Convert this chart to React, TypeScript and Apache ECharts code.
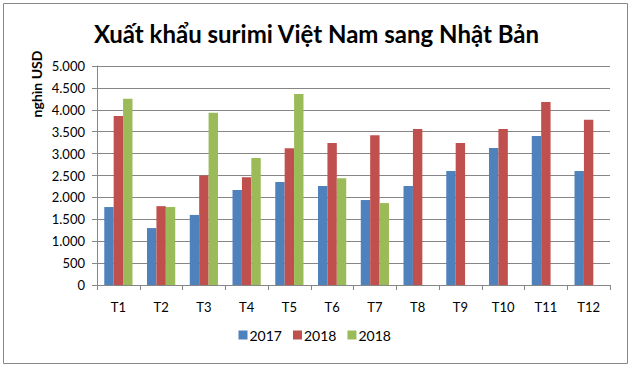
import React, { useEffect, useRef } from "react";
import * as echarts from "echarts";

const categories = ["T1", "T2", "T3", "T4", "T5", "T6", "T7", "T8", "T9", "T10", "T11", "T12"];
const seriesNames = ["2017", "2018", "2018"];
const values2017 = [1780, 1300, 1600, 2170, 2350, 2260, 1940, 2260, 2600, 3130, 3400, 2600];
const values2018a = [3860, 1800, 2500, 2460, 3120, 3240, 3420, 3560, 3240, 3560, 4180, 3770];
const values2018b: (number | null)[] = [4250, 1780, 3930, 2900, 4360, 2440, 1870, null, null, null, null, null];
const colors = ["#4F81BD", "#C0504D", "#9BBB59"];

const FONT = "Lato";

export default function App() {
  const ref = useRef<HTMLDivElement>(null);
  useEffect(() => {
    if (!ref.current) return;
    const chart = echarts.init(ref.current, null, { renderer: "svg" });
    const data = [values2017, values2018a, values2018b];
    chart.setOption({
      animation: false,
      backgroundColor: "#ffffff",
      title: {
        text: "Xuất khẩu surimi Việt Nam sang Nhật Bản",
        left: "center",
        top: 16,
        textStyle: { fontFamily: FONT, fontWeight: "bold", fontSize: 24, color: "#000" },
      },
      graphic: [
        {
          type: "rect",
          shape: { x: 3.5, y: 3.5, width: 624, height: 360 },
          style: { fill: "none", stroke: "#888888", lineWidth: 1 },
          silent: true,
        },
        {
          type: "text",
          x: 36,
          y: 84,
          rotation: Math.PI / 2,
          style: {
            text: "nghìn USD",
            fontFamily: FONT,
            fontWeight: "bold",
            fontSize: 14,
            fill: "#000",
            align: "center",
            verticalAlign: "middle",
          },
        },
      ],
      legend: {
        data: seriesNames.map((n, i) => ({ name: n + (i === 2 ? " " : ""), itemStyle: { color: colors[i] } })),
        bottom: 21,
        left: "center",
        icon: "rect",
        itemWidth: 9,
        itemHeight: 9,
        itemGap: 11,
        textStyle: { fontFamily: FONT, fontSize: 14, color: "#000", padding: [0, 0, 0, -3] },
      },
      grid: { left: 97, right: 23, top: 66, bottom: 83 },
      xAxis: {
        type: "category",
        data: categories,
        axisLine: { lineStyle: { color: "#868686" } },
        axisTick: { show: true, length: 5, alignWithLabel: false, lineStyle: { color: "#868686" } },
        axisLabel: { fontFamily: FONT, fontSize: 13, color: "#000", margin: 15 },
      },
      yAxis: {
        type: "value",
        min: 0,
        max: 5000,
        interval: 500,
        axisLine: { show: true, lineStyle: { color: "#868686" } },
        axisTick: { show: true, length: 5, inside: false, lineStyle: { color: "#868686" } },
        splitLine: { lineStyle: { color: "#868686" } },
        axisLabel: {
          fontFamily: FONT,
          fontSize: 13,
          color: "#000",
          margin: 12,
          formatter: (v: number) => v.toLocaleString("de-DE"),
        },
      },
      series: data.map((d, i) => ({
        name: seriesNames[i] + (i === 2 ? " " : ""),
        type: "bar",
        data: d,
        itemStyle: { color: colors[i] },
        barGap: "0%",
        barCategoryGap: "34%",
      })),
    });
    return () => chart.dispose();
  }, []);
  return <div ref={ref} style={{ position: "fixed", left: 0, top: 0, width: 633, height: 368 }} />;
}
